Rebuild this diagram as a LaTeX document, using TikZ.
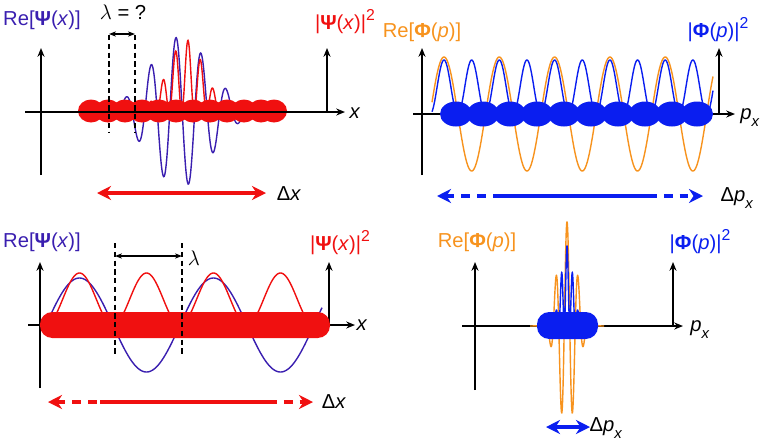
\documentclass[tikz,border=0pt]{standalone}
\usepackage{fontspec}
\setmainfont{Liberation Sans}
\usetikzlibrary{arrows.meta}
\definecolor{indig}{HTML}{3A1FB0}
\definecolor{myred}{HTML}{F01010}
\definecolor{myblue}{HTML}{0A1EF0}
\definecolor{myor}{HTML}{F7931E}
\begin{document}
\begin{tikzpicture}[x=0.02cm,y=-0.02cm,
  ax/.style={line width=1.1pt,-{Stealth[length=5pt,width=4pt]}},
  lab/.style={font=\fontsize{11.5}{13}\selectfont,inner sep=0pt},
  big/.style={line width=2.2pt,{Stealth[length=8pt,width=8pt]}-{Stealth[length=8pt,width=8pt]}},
  dsh/.style={line width=2.2pt,dash pattern=on 5pt off 4pt},
  dsl/.style={densely dashed,line width=0.6pt},
  lam/.style={line width=0.8pt,{Stealth[length=4pt]}-{Stealth[length=4pt]}}]
\useasboundingbox (0,0) rectangle (763,440);
\newcommand{\Ps}{{\bfseries Ψ}}
\newcommand{\Ph}{{\bfseries Φ}}
\newcommand{\sq}{\raisebox{0.45em}{\fontsize{9}{9}\selectfont 2}}
\newcommand{\sbx}{\raisebox{-0.35em}{\fontsize{8.5}{9}\selectfont\textit{x}}}
% ================= TL
\draw[ax] (41,175) -- (41,48);
\draw[ax] (327,112) -- (327,48);
\draw[indig,line width=0.8pt] plot[domain=60:320,samples=500] (\x,{112-75*exp(-0.5*((\x-180)/30)^2)*cos(14.4*(\x-176))});
\draw[myred,line width=0.8pt] plot[domain=100:280,samples=500] (\x,{112-72*exp(-0.5*((\x-186)/18)^2)*(cos(14.4*(\x-188)))^2});
\foreach \c in {91,108,125,142,159,176,193,210,227,244,261,274}
  \fill[myred] (\c,111) ellipse (13 and 11.5);
\draw[ax] (25,112) -- (345,112);
\node[lab] (tlx) at (355,113) {\textit{x}};
\node[lab,text=indig] (tlre) at (42,20) {Re[\Ps(\textit{x})]};
\node[lab,text=myred] (tlsq) at (345,22) {|\Ps(\textit{x})|\sq};
\draw[dsl] (109,35) -- (109,133);
\draw[dsl] (135,35) -- (135,133);
\coordinate (tll1) at (109,34); \coordinate (tll2) at (135,34);
\draw[lam] (tll1) -- (tll2);
\node[lab] (tllam) at (123,12) {$\lambda$ = ?};
\coordinate (tld1) at (97,193); \coordinate (tld2) at (266,193);
\draw[big,myred] (tld1) -- (tld2);
\node[lab] (tldx) at (289,194) {Δ\textit{x}};
% ================= TR
\draw[ax] (422,175) -- (422,48);
\draw[ax] (719,114) -- (719,48);
\draw[myor,line width=0.8pt] plot[domain=432:713,samples=500] (\x,{114-57*cos(6.51*(\x-444))});
\draw[myblue,line width=0.8pt] plot[domain=432:713,samples=500] (\x,{114-54*(cos(6.51*(\x-444)))^2});
\draw[ax] (413,114) -- (735,114);
\foreach \c in {456,483,510,537,564,591,618,645,672,697}
  \fill[myblue] (\c,114) ellipse (16 and 12.5);
\node[lab] (trpx) at (750,118) {\textit{p}\sbx};
\node[lab,text=myor] (trre) at (422,32) {Re[\Ph(\textit{p})]};
\node[lab,text=myblue] (trsq) at (718,30) {|\Ph(\textit{p})|\sq};
\coordinate (trd1) at (437,196); \coordinate (trd2) at (703,196);
\coordinate (trm1) at (494,196); \coordinate (trm2) at (648,196);
\draw[myblue,line width=2.2pt] (trm1) -- (trm2);
\draw[myblue,dsh,{Stealth[length=8pt,width=8pt]}-] (trd1) -- (trm1);
\draw[myblue,dsh,-{Stealth[length=8pt,width=8pt]}] (trm2) -- (trd2);
\node[lab] (trdp) at (737,198) {Δ\textit{p}\sbx};
% ================= BL
\draw[ax] (40,388) -- (40,262);
\draw[ax] (329,325) -- (329,262);
\draw[ax] (28,325) -- (355,325);
\draw[indig,line width=0.8pt] plot[domain=46:322,samples=300] (\x,{325-47*sin(2.687*(\x-46))});
\draw[myred,line width=0.8pt] plot[domain=46:322,samples=300] (\x,{325-52*(sin(2.687*(\x-46)))^2});
\fill[myred,rounded corners=7pt] (40,312) rectangle (330,338);
\node[lab] (blx) at (362,325) {\textit{x}};
\node[lab,text=indig] (blre) at (42,242) {Re[\Ps(\textit{x})]};
\node[lab,text=myred] (blsq) at (340,243) {|\Ps(\textit{x})|\sq};
\draw[dsl] (115,243) -- (115,355);
\draw[dsl] (182,243) -- (182,355);
\coordinate (bll1) at (115,256); \coordinate (bll2) at (182,256);
\draw[lam] (bll1) -- (bll2);
\node[lab] (bllam) at (194,258) {$\lambda$};
\coordinate (bld1) at (48,402); \coordinate (bld2) at (313,402);
\coordinate (blm1) at (100,402); \coordinate (blm2) at (268,402);
\draw[myred,line width=2.2pt] (blm1) -- (blm2);
\draw[myred,dsh,{Stealth[length=8pt,width=8pt]}-] (bld1) -- (blm1);
\draw[myred,dsh,-{Stealth[length=8pt,width=8pt]}] (blm2) -- (bld2);
\node[lab] (bldx) at (334,402) {Δ\textit{x}};
% ================= BR
\draw[ax] (475,390) -- (475,262);
\draw[ax] (673,326) -- (673,262);
\draw[ax] (462,326) -- (683,326);
\draw[myor,line width=0.8pt] plot[domain=530:604,samples=600] (\x,{326-104*exp(-0.5*((\x-567)/9)^2)*cos(32.73*(\x-567))});
\draw[myblue,line width=0.8pt] plot[domain=540:594,samples=600] (\x,{326-80*exp(-0.5*((\x-567)/6)^2)*(cos(32.73*(\x-567)))^2});
\fill[myblue,rounded corners=7pt] (537,312) rectangle (598,339);
\node[lab] (brpx) at (700,330) {\textit{p}\sbx};
\node[lab,text=myor] (brre) at (477,242) {Re[\Ph(\textit{p})]};
\node[lab,text=myblue] (brsq) at (700,242) {|\Ph(\textit{p})|\sq};
\coordinate (brd1) at (546,427); \coordinate (brd2) at (590,427);
\draw[big,myblue] (brd1) -- (brd2);
\node[lab] (brdp) at (606,428) {Δ\textit{p}\sbx};
\end{tikzpicture}
\end{document}
